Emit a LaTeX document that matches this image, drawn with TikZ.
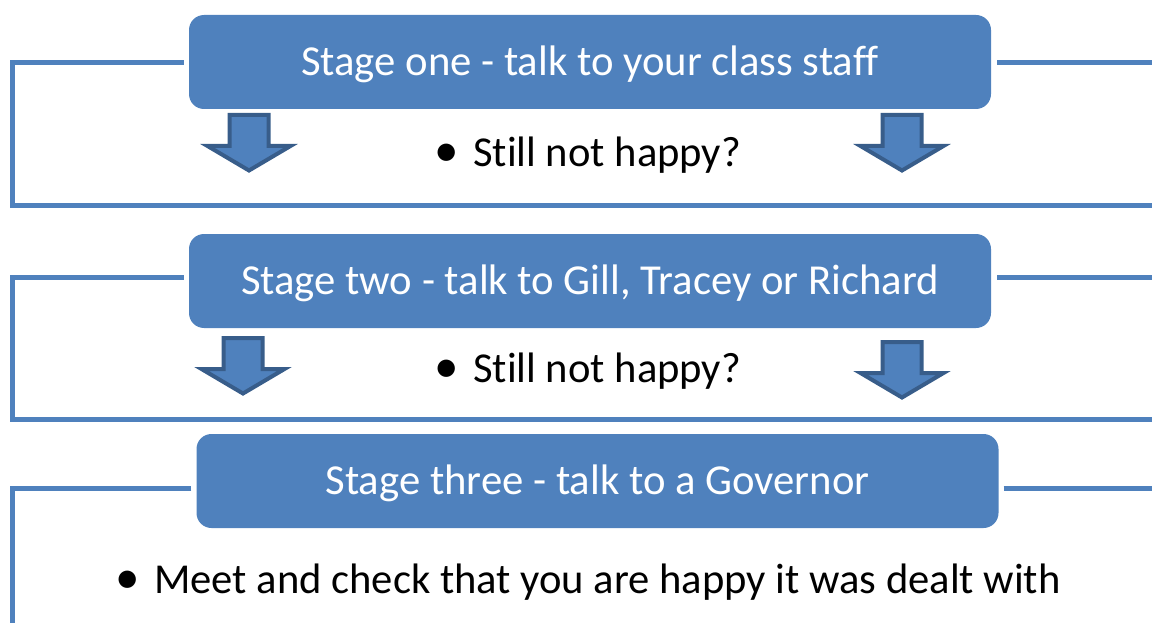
\documentclass[tikz,border=0pt]{standalone}
\usepackage{fontspec}
\setmainfont{Carlito}[Ligatures = NoCommon]
\usetikzlibrary{positioning}
\usepackage{xcolor}

\definecolor{stageblue}{HTML}{4F81BD}
\definecolor{arrowedge}{HTML}{385D8A}

\newcommand{\stagebullet}{\makebox[35pt][l]{\hspace{-4pt}\scalebox{1.15}{•}}}

\begin{document}
\begin{tikzpicture}[
        x = 1pt, y = -1pt, % one unit per pixel, y runs down
        line join = miter,
        stage/.style = {
          fill = stageblue,
          rounded corners = 15pt,
          minimum width = 802pt,
          minimum height = 94pt,
          inner sep = 0pt,
          text = white,
          text height = 27pt, % cap height, so the caps sit in the middle
          text depth = 0pt,
          font = \fontsize{42.7}{50}\selectfont
        },
        point/.style = {
          anchor = base west,
          inner sep = 0pt,
          font = \fontsize{42.6}{50}\selectfont
        },
        frame/.style = {
          draw = stageblue,
          line width = 5pt
        }
      ]

      \tikzset{
        pics/downarrow/.style = {
          code = {
            \draw[fill = stageblue, draw = arrowedge, line width = 4pt]
              (-19.5,-58) -- (19.5,-58) -- (19.5,-27) -- (41.5,-27)
              -- (0,-2.5) -- (-41.5,-27) -- (-19.5,-27) -- cycle;
          }
        }
      }

      \useasboundingbox (0,0) rectangle (1152,623);

      % the three stages
      \node[stage] (one) at (590,62) {Stage one - talk to your class staff};
      \node[stage] (two) at (590,281) {Stage two - talk to Gill, Tracey or Richard};
      \node[stage] (three) at (597.5,481) {Stage three - talk to a Governor};

      % bullet lines
      \node[point] (still1) at (438,167) {\stagebullet Still not happy?};
      \node[point] (still2) at (438,382) {\stagebullet Still not happy?};
      \node[point] (meet) at (119,593) {\stagebullet Meet and check that you are happy it was dealt with};

      % block arrows, placed by their tips
      \pic (down1l) at (249,173) {downarrow};
      \pic (down1r) at (902,173) {downarrow};
      \pic (down2l) at (243,396) {downarrow};
      \pic (down2r) at (902,400) {downarrow};

      % frame corners and ends
      \coordinate (corner1) at (12,206);
      \coordinate (corner2) at (12,419);
      \coordinate (corner3) at (12,640);
      \coordinate (end1) at (1160,206);
      \coordinate (end2) at (1160,419);
      \coordinate (right1) at (1160,63);
      \coordinate (right2) at (1160,277);
      \coordinate (right3) at (1160,488);

      \draw[frame] ([shift={(-5,1)}]one.west) -| (corner1) -- (end1);
      \draw[frame] ([shift={(6,1)}]one.east) -- (right1);

      \draw[frame] ([shift={(-5,-4)}]two.west) -| (corner2) -- (end2);
      \draw[frame] ([shift={(6,-4)}]two.east) -- (right2);

      \draw[frame] ([shift={(-5,7)}]three.west) -| (corner3);
      \draw[frame] ([shift={(5,7)}]three.east) -- (right3);
  \end{tikzpicture}
\end{document}
